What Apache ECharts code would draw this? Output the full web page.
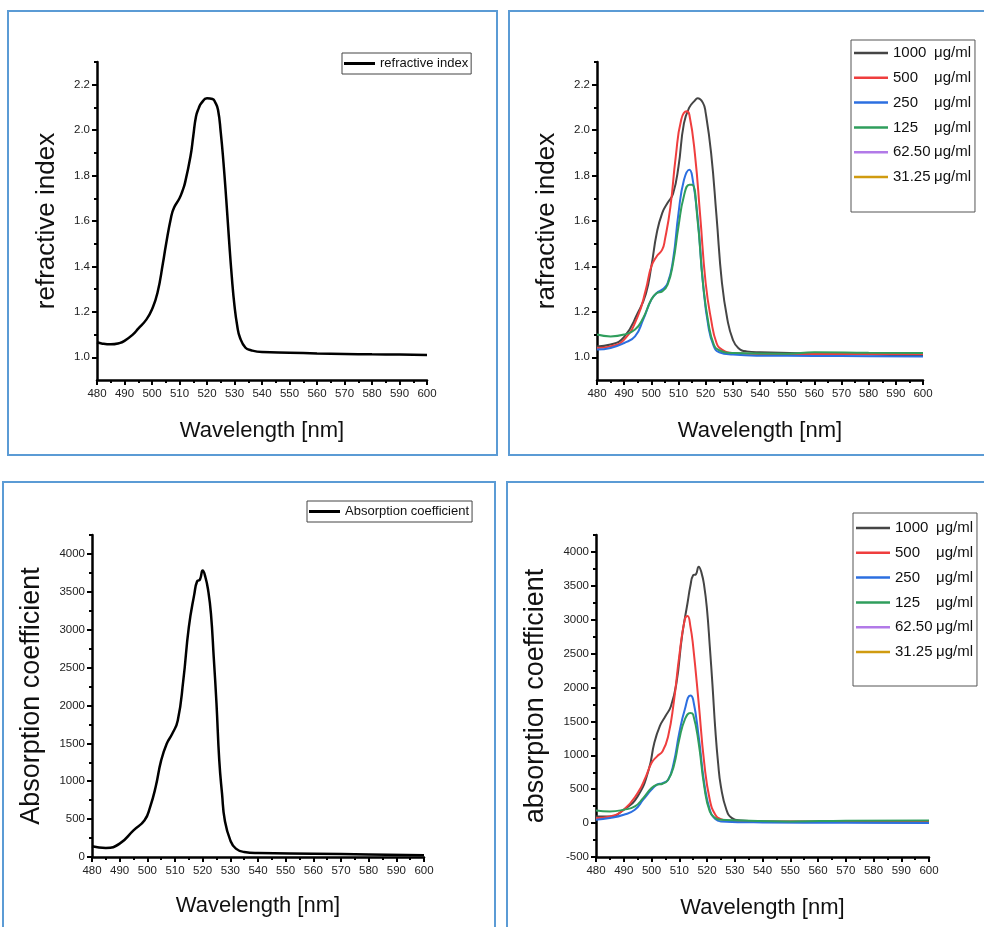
<!DOCTYPE html>
<html>
<head>
<meta charset="utf-8">
<script src="https://cdn.jsdelivr.net/npm/echarts@6/dist/echarts.min.js"></script>
<style>
  html, body { margin: 0; padding: 0; background: #fff; }
  #chart { width: 984px; height: 927px; }
</style>
</head>
<body>
<div id="chart"></div>
<script>
// ---- tick values ----
const xMajor = [480, 490, 500, 510, 520, 530, 540, 550, 560, 570, 580, 590, 600];
const xMinor = [485, 495, 505, 515, 525, 535, 545, 555, 565, 575, 585, 595];
const riMajor = [1.0, 1.2, 1.4, 1.6, 1.8, 2.0, 2.2];
const riMinor = [1.1, 1.3, 1.5, 1.7, 1.9, 2.1, 2.3];
const acMajor = [0, 500, 1000, 1500, 2000, 2500, 3000, 3500, 4000];
const acMinor = [250, 750, 1250, 1750, 2250, 2750, 3250, 3750, 4250];
const acMajor2 = [-500, 0, 500, 1000, 1500, 2000, 2500, 3000, 3500, 4000];
const acMinor2 = [-250, 250, 750, 1250, 1750, 2250, 2750, 3250, 3750, 4250];

const concNames = ['1000', '500', '250', '125', '62.50', '31.25'];
const concColors = ['#454545', '#ef3e3e', '#2c6fe0', '#2f9e5c', '#b27ae8', '#d09b10'];

// ---- refractive index, single curve ----
const riX = [480, 482, 485, 488, 490, 493, 495, 498, 500, 502, 504, 505, 507, 508, 510, 511, 512, 514, 515, 516, 517, 518, 520, 522, 523, 524, 525, 526, 527, 528, 529, 530, 531, 532, 534, 536, 540, 550, 560, 570, 580, 590, 600];
const riY = [1.066, 1.060, 1.057, 1.062, 1.072, 1.100, 1.126, 1.167, 1.211, 1.284, 1.416, 1.490, 1.620, 1.658, 1.700, 1.730, 1.768, 1.885, 1.973, 2.060, 2.097, 2.120, 2.140, 2.137, 2.122, 2.090, 1.990, 1.856, 1.695, 1.519, 1.357, 1.226, 1.138, 1.086, 1.042, 1.031, 1.023, 1.020, 1.017, 1.015, 1.013, 1.012, 1.010];

// ---- refractive index per concentration ----
const ri1000X = [480, 485, 490, 495, 498, 500, 502, 504, 506, 508, 510, 512, 514, 516, 517, 519, 520, 522, 524, 526, 528, 530, 532, 535, 540, 560, 580, 600];
const ri1000Y = [1.048, 1.056, 1.090, 1.195, 1.280, 1.400, 1.547, 1.635, 1.680, 1.720, 1.840, 2.030, 2.100, 2.130, 2.140, 2.120, 2.076, 1.900, 1.620, 1.327, 1.166, 1.078, 1.041, 1.026, 1.022, 1.016, 1.012, 1.007];
const ri500X = [480, 485, 490, 495, 498, 500, 502, 504, 505, 507, 509, 511, 513, 514, 516, 518, 520, 522, 524, 526, 530, 540, 560, 580, 600];
const ri500Y = [1.041, 1.048, 1.078, 1.180, 1.300, 1.400, 1.445, 1.474, 1.518, 1.660, 1.885, 2.046, 2.083, 2.068, 1.900, 1.620, 1.327, 1.166, 1.063, 1.034, 1.019, 1.015, 1.015, 1.014, 1.014];
const ri250X = [480, 485, 490, 494, 497, 500, 502, 504, 506, 508, 510, 512, 514, 515, 517, 519, 521, 523, 525, 530, 540, 560, 580, 600];
const ri250Y = [1.034, 1.041, 1.063, 1.092, 1.166, 1.254, 1.283, 1.298, 1.327, 1.430, 1.635, 1.780, 1.826, 1.800, 1.620, 1.327, 1.136, 1.048, 1.022, 1.012, 1.007, 1.006, 1.005, 1.004];
const ri125X = [480, 485, 490, 494, 497, 500, 502, 504, 506, 508, 510, 512, 514, 515, 517, 519, 521, 523, 525, 530, 550, 560, 580, 600];
const ri125Y = [1.100, 1.092, 1.100, 1.122, 1.173, 1.254, 1.283, 1.290, 1.320, 1.415, 1.577, 1.710, 1.760, 1.760, 1.606, 1.327, 1.151, 1.056, 1.031, 1.019, 1.016, 1.022, 1.020, 1.019];

// ---- absorption coefficient, single curve ----
const acX = [480, 485, 490, 495, 499, 501, 503, 505, 507, 509, 511, 513, 515, 517, 518, 519, 520, 521, 522, 523, 524, 525, 526, 527, 528, 530, 532, 535, 540, 560, 580, 600];
const acY = [141, 119, 176, 352, 484, 659, 923, 1275, 1495, 1626, 1802, 2330, 3033, 3473, 3640, 3660, 3780, 3692, 3516, 3208, 2637, 2022, 1275, 835, 484, 220, 110, 66, 53, 44, 33, 22];

// ---- absorption coefficient per concentration ----
const ac1000X = [480, 485, 490, 495, 499, 501, 503, 505, 507, 509, 511, 513, 514, 515, 516, 517, 518, 519, 520, 521, 522, 523, 524, 525, 527, 529, 532, 540, 560, 580, 600];
const ac1000Y = [98, 98, 197, 394, 788, 1182, 1429, 1576, 1724, 2069, 2759, 3251, 3497, 3655, 3670, 3783, 3695, 3497, 3152, 2611, 2020, 1379, 887, 542, 197, 74, 39, 25, 18, 14, 10];
const ac500X = [480, 485, 490, 495, 498, 500, 502, 504, 506, 508, 510, 512, 513, 514, 515, 517, 519, 521, 523, 525, 530, 560, 600];
const ac500Y = [74, 98, 197, 443, 690, 887, 985, 1059, 1280, 1773, 2463, 3005, 3054, 2906, 2611, 1773, 887, 345, 123, 59, 25, 25, 25];
const ac250X = [480, 485, 490, 494, 497, 500, 502, 504, 506, 508, 510, 512, 514, 515, 517, 519, 521, 523, 525, 540, 570, 600];
const ac250Y = [49, 74, 123, 197, 345, 493, 567, 591, 640, 887, 1330, 1675, 1882, 1823, 1280, 591, 197, 59, 25, 10, 5, 0];
const ac125X = [480, 485, 490, 494, 497, 500, 502, 504, 506, 508, 510, 512, 514, 515, 517, 519, 521, 523, 525, 550, 570, 600];
const ac125Y = [187, 172, 197, 246, 369, 517, 567, 581, 640, 837, 1232, 1527, 1626, 1601, 1182, 542, 172, 74, 49, 25, 35, 39];

// ---- helpers ----
const sans = "'Liberation Sans', Arial, sans-serif";
const zip = (xs, ys) => xs.map((x, i) => [x, ys[i]]);

const grids = [
  { left: 97, top: 62, width: 330, height: 318 },
  { left: 597, top: 62, width: 326, height: 318 },
  { left: 92, top: 535, width: 332, height: 322 },
  { left: 596, top: 535, width: 333, height: 322 }
];

const xAxes = [];
const yAxes = [];

const addX = (g, nameGap) => {
  xAxes.push({
    type: 'value', gridIndex: g, min: 480, max: 600, position: 'bottom',
    name: 'Wavelength [nm]', nameLocation: 'middle', nameGap: nameGap,
    nameTextStyle: { fontFamily: sans, fontSize: 22, color: '#111' },
    axisLine: { show: true, onZero: false, lineStyle: { color: '#000', width: 2.5 } },
    axisTick: { show: true, length: 5, customValues: xMajor, lineStyle: { color: '#000', width: 2 } },
    axisLabel: { customValues: xMajor, fontFamily: sans, fontSize: 11.5, color: '#222', margin: 8 },
    splitLine: { show: false }
  });
  xAxes.push({
    type: 'value', gridIndex: g, min: 480, max: 600, position: 'bottom',
    axisLine: { show: false, onZero: false },
    axisTick: { show: true, length: 3, customValues: xMinor, lineStyle: { color: '#000', width: 2 } },
    axisLabel: { show: false },
    splitLine: { show: false }
  });
};

const addY = (g, name, min, max, major, minor, digits, nameGap, nameSize) => {
  yAxes.push({
    type: 'value', gridIndex: g, min: min, max: max, position: 'left',
    name: name, nameLocation: 'middle', nameGap: nameGap,
    nameTextStyle: { fontFamily: sans, fontSize: nameSize, color: '#111' },
    axisLine: { show: true, onZero: false, lineStyle: { color: '#000', width: 2.5 } },
    axisTick: { show: true, length: 5, customValues: major, lineStyle: { color: '#000', width: 2 } },
    axisLabel: {
      customValues: major, fontFamily: sans, fontSize: 11.5, color: '#222', margin: 7,
      formatter: v => v.toFixed(digits)
    },
    splitLine: { show: false }
  });
  yAxes.push({
    type: 'value', gridIndex: g, min: min, max: max, position: 'left',
    axisLine: { show: false, onZero: false },
    axisTick: { show: true, length: 3, customValues: minor, lineStyle: { color: '#000', width: 2 } },
    axisLabel: { show: false },
    splitLine: { show: false }
  });
};

addX(0, 40); addX(1, 40); addX(2, 38); addX(3, 40);
addY(0, 'refractive index', 0.9, 2.3, riMajor, riMinor, 1, 37, 26);
addY(1, 'rafractive index', 0.9, 2.3, riMajor, riMinor, 1, 37, 26);
addY(2, 'Absorption coefficient', 0, 4250, acMajor, acMinor, 0, 47, 27);
addY(3, 'absorption coefficient', -500, 4250, acMajor2, acMinor2, 0, 47, 27);

const line = (name, g, data, color, width) => ({
  name: name, type: 'line', xAxisIndex: g * 2, yAxisIndex: g * 2,
  data: data, showSymbol: false, symbol: 'none', smooth: 0.5,
  lineStyle: { color: color, width: width }, itemStyle: { color: color }
});

const riSets = [zip(ri1000X, ri1000Y), zip(ri500X, ri500Y), zip(ri250X, ri250Y), zip(ri125X, ri125Y), [], []];
const acSets = [zip(ac1000X, ac1000Y), zip(ac500X, ac500Y), zip(ac250X, ac250Y), zip(ac125X, ac125Y), [], []];

const series = [
  line('refractive index', 0, zip(riX, riY), '#000', 2.5),
  line('Absorption coefficient', 2, zip(acX, acY), '#000', 2.5)
];
concNames.forEach((n, i) => series.push(line(n, 1, riSets[i], concColors[i], 2)));
concNames.forEach((n, i) => series.push(line(n, 3, acSets[i], concColors[i], 2)));

const concLegend = (left, top, padTop, padBottom) => ({
  left: left, top: top, orient: 'vertical',
  data: concNames, icon: 'rect',
  itemWidth: 34, itemHeight: 2.5, itemGap: 9.8,
  padding: [padTop, 4, padBottom, 3],
  borderColor: '#555', borderWidth: 1, backgroundColor: '#fff',
  selectedMode: false,
  formatter: n => '{n|' + n + '}{u|μg/ml}',
  textStyle: {
    fontFamily: sans, fontSize: 15, color: '#111',
    rich: { n: { width: 41, fontFamily: sans, fontSize: 15, color: '#111' }, u: { fontFamily: sans, fontSize: 15, color: '#111' } }
  }
});

const singleLegend = (name, left, top) => ({
  left: left, top: top, data: [name], icon: 'rect',
  itemWidth: 31, itemHeight: 3, padding: [4, 3, 4, 2],
  borderColor: '#444', borderWidth: 1, backgroundColor: '#fff',
  selectedMode: false,
  textStyle: { fontFamily: sans, fontSize: 13, color: '#111' }
});

const panel = (x, y, w, h) => ({
  type: 'rect', shape: { x: x, y: y, width: w, height: h },
  style: { fill: 'none', stroke: '#5b9bd5', lineWidth: 2 }, silent: true
});

const chart = echarts.init(document.getElementById('chart'), null, { renderer: 'canvas' });
chart.setOption({
  backgroundColor: '#fff',
  animation: false,
  graphic: [
    panel(8, 11, 489, 444),
    panel(509, 11, 480, 444),
    panel(3, 482, 492, 450),
    panel(507, 482, 480, 450)
  ],
  grid: grids,
  xAxis: xAxes,
  yAxis: yAxes,
  legend: [
    singleLegend('refractive index', 342, 53),
    concLegend(851, 40, 5.5, 27.5),
    singleLegend('Absorption coefficient', 307, 501),
    concLegend(853, 513, 7.5, 26.5)
  ],
  series: series
});
</script>
</body>
</html>
